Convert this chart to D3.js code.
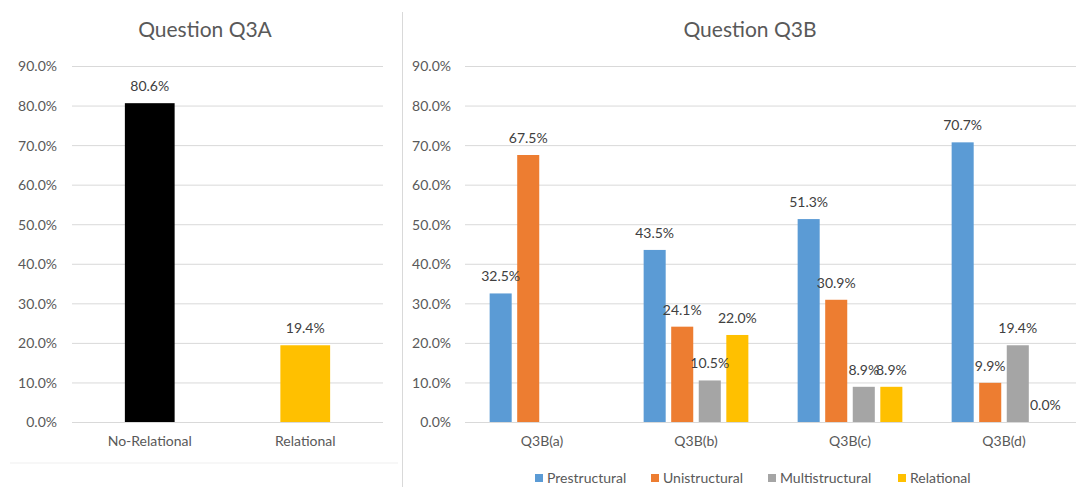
<!DOCTYPE html>
<html>
<head>
<meta charset="utf-8">
<script src="https://cdn.jsdelivr.net/npm/d3@7"></script>
<style>
  html, body { margin: 0; padding: 0; background: #ffffff; }
  svg { display: block; }
  text { font-family: Lato, "Open Sans", sans-serif; }
</style>
</head>
<body>
<svg id="chart" width="1076" height="487"></svg>
<script>
// Question Q3A: share of responses per category
const q3aCategories = ["No-Relational", "Relational"];
const q3aValues = [80.6, 19.4];
const q3aColors = ["#000000", "#ffc000"];

// Question Q3B: grouped by sub-question, one bar per SOLO level
const q3bCategories = ["Q3B(a)", "Q3B(b)", "Q3B(c)", "Q3B(d)"];
const q3bSeries = ["Prestructural", "Unistructural", "Multistructural", "Relational"];
const prestructural   = [32.5, 43.5, 51.3, 70.7];
const unistructural   = [67.5, 24.1, 30.9, 9.9];
const multistructural = [null, 10.5, 8.9, 19.4];
const relational      = [null, 22.0, 8.9, 0.0];
const q3bColors = ["#5b9bd5", "#ed7d31", "#a5a5a5", "#ffc000"];

// Shared value axis ticks
const yTicks = [0, 10, 20, 30, 40, 50, 60, 70, 80, 90];

const svg = d3.select("#chart");
const textColor = "#595959";
const labelColor = "#404040";
const gridColor = "#d9d9d9";
const fontSize = "14px";

const y = d3.scaleLinear().domain([0, 90]).range([422, 66]);
const fmt = d => d3.format(".1f")(d) + "%";

function drawValueAxis(g, x0, x1, labelX) {
  const axis = d3.axisLeft(y).tickValues(yTicks).tickSize(-(x1 - x0)).tickFormat(fmt);
  const a = g.append("g").attr("transform", `translate(${x0},0)`).call(axis);
  a.select(".domain").remove();
  a.selectAll(".tick line").attr("stroke", gridColor).attr("stroke-width", 1);
  a.selectAll(".tick text")
    .attr("x", labelX - x0)
    .attr("dy", "0.35em")
    .attr("fill", textColor)
    .style("font-size", fontSize);
}

// ---- Left panel: Q3A ----
const left = svg.append("g");
drawValueAxis(left, 72, 383, 57);

const xA = d3.scaleBand().domain(q3aCategories).range([72, 383])
  .paddingInner(0.68).paddingOuter(0.34);

left.selectAll("rect.bar").data(q3aCategories).enter().append("rect")
  .attr("class", "bar")
  .attr("x", d => xA(d))
  .attr("width", xA.bandwidth())
  .attr("y", (d, i) => y(q3aValues[i]))
  .attr("height", (d, i) => y(0) - y(q3aValues[i]))
  .attr("fill", (d, i) => q3aColors[i]);

left.selectAll("text.val").data(q3aCategories).enter().append("text")
  .attr("class", "val")
  .attr("x", d => xA(d) + xA.bandwidth() / 2)
  .attr("y", (d, i) => y(q3aValues[i]) - 12)
  .attr("text-anchor", "middle")
  .attr("fill", labelColor)
  .style("font-size", fontSize)
  .text((d, i) => fmt(q3aValues[i]));

const axA = left.append("g").attr("transform", `translate(0,${y(0)})`)
  .call(d3.axisBottom(xA).tickSize(0).tickPadding(14));
axA.select(".domain").remove();
axA.selectAll(".tick text").attr("fill", textColor).style("font-size", fontSize);

left.append("text")
  .attr("x", 205).attr("y", 37)
  .attr("text-anchor", "middle")
  .attr("fill", textColor)
  .style("font-size", "21px")
  .text("Question Q3A");

// faint lower edge of the left panel
left.append("line")
  .attr("x1", 10).attr("x2", 398).attr("y1", 463).attr("y2", 463)
  .attr("stroke", "#efefef").attr("stroke-width", 1);

// panel divider
svg.append("line")
  .attr("x1", 402.5).attr("x2", 402.5).attr("y1", 12).attr("y2", 487)
  .attr("stroke", "#d9d9d9").attr("stroke-width", 1);

// ---- Right panel: Q3B ----
const right = svg.append("g");
drawValueAxis(right, 465, 1081, 451);

const x0 = d3.scaleBand().domain(q3bCategories).range([465, 1081])
  .paddingInner(0.32).paddingOuter(0.16);
const x1 = d3.scaleBand().domain(q3bSeries).range([0, x0.bandwidth()])
  .paddingInner(0.2);

const seriesValues = [prestructural, unistructural, multistructural, relational];
const cells = [];
q3bCategories.forEach((c, ci) => {
  q3bSeries.forEach((s, si) => {
    const v = seriesValues[si][ci];
    if (v !== null) cells.push({ cat: c, series: s, value: v, color: q3bColors[si] });
  });
});

right.selectAll("rect.bar").data(cells).enter().append("rect")
  .attr("class", "bar")
  .attr("x", d => x0(d.cat) + x1(d.series))
  .attr("width", x1.bandwidth())
  .attr("y", d => y(d.value))
  .attr("height", d => y(0) - y(d.value))
  .attr("fill", d => d.color);

right.selectAll("text.val").data(cells).enter().append("text")
  .attr("class", "val")
  .attr("x", d => x0(d.cat) + x1(d.series) + x1.bandwidth() / 2)
  .attr("y", d => y(d.value) - 12)
  .attr("text-anchor", "middle")
  .attr("fill", labelColor)
  .style("font-size", fontSize)
  .text(d => fmt(d.value));

const axB = right.append("g").attr("transform", `translate(0,${y(0)})`)
  .call(d3.axisBottom(x0).tickSize(0).tickPadding(14));
axB.select(".domain").remove();
axB.selectAll(".tick text").attr("fill", textColor).style("font-size", fontSize);

right.append("text")
  .attr("x", 750).attr("y", 37)
  .attr("text-anchor", "middle")
  .attr("fill", textColor)
  .style("font-size", "21px")
  .text("Question Q3B");

// legend
const legendX = [535, 651, 768, 898];
const legend = right.selectAll("g.legend").data(q3bSeries).enter().append("g")
  .attr("class", "legend")
  .attr("transform", (d, i) => `translate(${legendX[i]},474)`);
legend.append("rect")
  .attr("width", 8).attr("height", 8)
  .attr("fill", (d, i) => q3bColors[i]);
legend.append("text")
  .attr("x", 12).attr("y", 4).attr("dy", "0.35em")
  .attr("fill", textColor)
  .style("font-size", fontSize)
  .text(d => d);
</script>
</body>
</html>
